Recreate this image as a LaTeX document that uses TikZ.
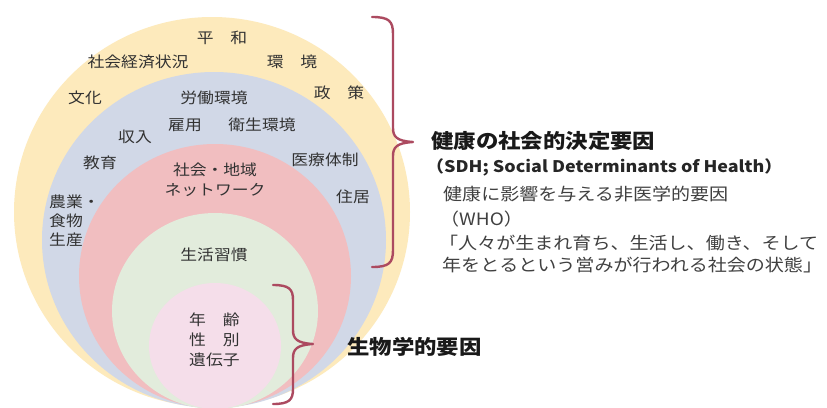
\documentclass[tikz,border=0pt]{standalone}
\usepackage{fontspec}
\newfontfamily\jp[FakeStretch=1.12]{Noto Sans CJK JP}
\definecolor{cyel}{RGB}{253,234,188}
\definecolor{cblu}{RGB}{209,216,231}
\definecolor{cred}{RGB}{241,190,192}
\definecolor{cgrn}{RGB}{226,236,220}
\definecolor{cpnk}{RGB}{245,222,234}
\definecolor{labc}{RGB}{50,50,50}
\definecolor{rtc}{RGB}{64,64,64}
\definecolor{bracec}{RGB}{172,74,96}
\begin{document}
\begin{tikzpicture}[x=1pt,y=-1pt,
  lab/.style={font=\jp\fontsize{15}{18}\selectfont, text=labc, inner sep=0pt},
  labw/.style={lab, anchor=west},
  rt/.style={font=\jp\fontsize{17}{20}\selectfont, text=rtc, inner sep=0pt, anchor=west},
  hd/.style={font=\jp\bfseries\fontsize{20}{24}\selectfont, text=black!90, inner sep=0pt, anchor=west},
  sdh/.style={font=\jp\bfseries\fontsize{16}{20}\selectfont, text=black!85, inner sep=0pt, anchor=west},
  bracepath/.style={draw=bracec, line width=2.4pt, line cap=round, line join=round}]
\useasboundingbox (0,0) rectangle (827,407);
\clip (0,0) rectangle (827,407);
\fill[white] (0,0) rectangle (827,407);
% nested circles
\fill[cyel] (212,212) ellipse [x radius=198pt, y radius=195pt];
\fill[cblu] (214,240) ellipse [x radius=172pt, y radius=168pt];
\fill[cred] (215,276) ellipse [x radius=136pt, y radius=132pt];
\fill[cgrn] (215,311) ellipse [x radius=103pt, y radius=98pt];
\fill[cpnk] (215,346) ellipse [x radius=66pt, y radius=63pt];
% outer ring labels
\node[lab] (heiwa) at (222,38) {平　和};
\node[lab] (keizai) at (138,62) {社会経済状況};
\node[lab] (kankyo) at (292,62) {環　境};
\node[lab] (bunka) at (85,98) {文化};
\node[lab] (seisaku) at (339,93) {政　策};
% blue ring labels
\node[lab] (roudou) at (214,98) {労働環境};
\node[lab] (koyou) at (185,125) {雇用};
\node[lab] (eisei) at (262,125) {衛生環境};
\node[lab] (shunyu) at (135,137) {収入};
\node[lab] (kyouiku) at (100,163) {教育};
\node[lab] (iryou) at (325,160) {医療体制};
\node[lab] (jukyo) at (353,197) {住居};
\node[labw] (nougyou) at (49,202) {農業・};
\node[labw] (shokumotsu) at (49,221) {食物};
\node[labw] (seisan) at (49,240) {生産};
% red ring labels
\node[lab] (chiiki) at (215,170) {社会・地域};
\node[lab] (network) at (215,190) {ネットワーク};
% green
\node[lab] (seikatsu) at (214,255) {生活習慣};
% pink
\node[labw] (nenrei) at (189,320) {年　齢};
\node[labw] (seibetsu) at (189,340) {性　別};
\node[labw] (iden) at (189,360) {遺伝子};
% braces
\coordinate (b1top) at (372,17);
\coordinate (b1tip) at (413,142);
\coordinate (b1bot) at (372,267);
\draw[bracepath] (b1top) .. controls (389,17) and (393,21) .. (393,34) -- (393,128)
  .. controls (393,137) and (397,141) .. (b1tip)
  .. controls (397,143) and (393,147) .. (393,156) -- (393,250)
  .. controls (393,263) and (389,267) .. (b1bot);
\coordinate (b2top) at (273,285);
\coordinate (b2tip) at (313,344);
\coordinate (b2bot) at (273,404);
\draw[bracepath] (b2top) .. controls (289,285) and (293,289) .. (293,300) -- (293,330)
  .. controls (293,339) and (297,343) .. (b2tip)
  .. controls (297,345) and (293,349) .. (293,358) -- (293,389)
  .. controls (293,400) and (289,404) .. (b2bot);
% right texts
\node[hd] (sdhjp) at (431,141) {健康の社会的決定要因};
\node[sdh] (sdhen) at (426,167) {（SDH; Social Determinants of Health）};
\node[rt] (hiigaku) at (443,194) {健康に影響を与える非医学的要因};
\node[rt] (who) at (440,219) {（WHO）};
\node[rt] (def1) at (439,243) {「人々が生まれ育ち、生活し、働き、そして};
\node[rt] (def2) at (442,265) {年をとるという営みが行われる社会の状態」};
\node[hd] (seibutsu) at (347,347) {生物学的要因};
\end{tikzpicture}
\end{document}
